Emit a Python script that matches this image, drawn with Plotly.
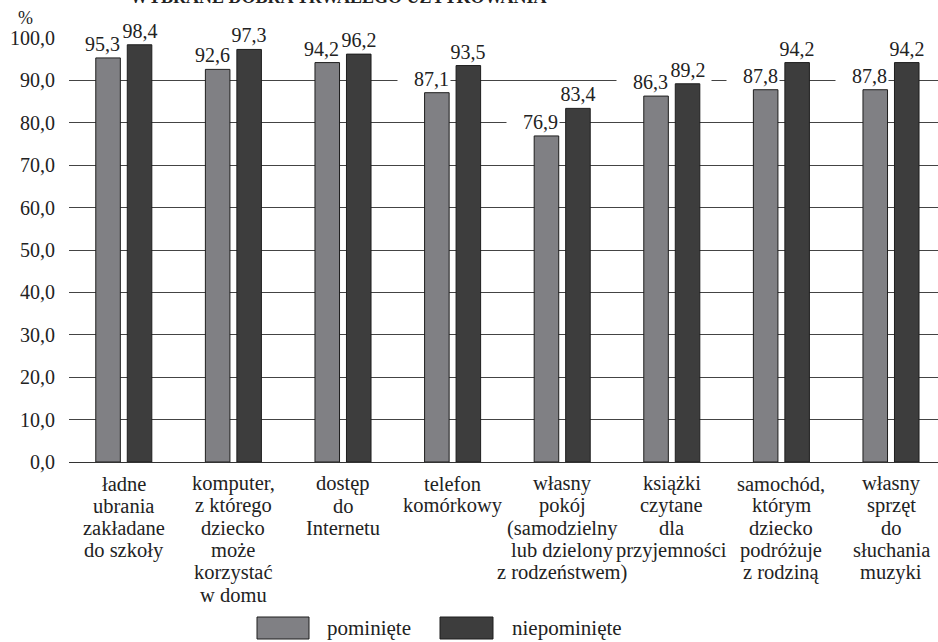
import plotly.graph_objects as go

# ---- data ----
categories = [
    ["ładne", "ubrania", "zakładane", "do szkoły"],
    ["komputer,", "z którego", "dziecko", "może", "korzystać", "w domu"],
    ["dostęp", "do", "Internetu"],
    ["telefon", "komórkowy"],
    ["własny", "pokój", "(samodzielny", "lub dzielony", "z rodzeństwem)"],
    ["książki", "czytane", "dla", "przyjemności"],
    ["samochód,", "którym", "dziecko", "podróżuje", "z rodziną"],
    ["własny", "sprzęt", "do", "słuchania", "muzyki"],
]
pominiete = [95.3, 92.6, 94.2, 87.1, 76.9, 86.3, 87.8, 87.8]
niepominiete = [98.4, 97.3, 96.2, 93.5, 83.4, 89.2, 94.2, 94.2]
series_names = ["pominięte", "niepominięte"]
tick_vals = [0, 10, 20, 30, 40, 50, 60, 70, 80, 90, 100]
tick_text = ["0,0", "10,0", "20,0", "30,0", "40,0", "50,0", "60,0", "70,0", "80,0", "90,0", "100,0"]
title_text = "WYBRANE DOBRA TRWAŁEGO UŻYTKOWANIA"

# ---- styling ----
W, H = 938, 642
PL, PT, PB = 69, 38, 180
PW = W - PL
PH = H - PT - PB
UNIT = 109.6
FONT = "Liberation Serif, Times New Roman, DejaVu Serif, serif"
GRAY = "#808084"
DARK = "#3d3d3d"
EDGE = "#1e1e1e"
BW = 0.224
OFF = 0.1437

x_idx = list(range(len(categories)))

def px2paper_x(px):
    return (px - PL) / PW

def px2paper_y(py):
    return (H - PB - py) / PH

fig = go.Figure()
fig.add_trace(go.Bar(
    x=x_idx, y=pominiete, name=series_names[0], width=BW, offset=-OFF - BW / 2,
    marker=dict(color=GRAY, line=dict(color=EDGE, width=1)), showlegend=False,
))
fig.add_trace(go.Bar(
    x=x_idx, y=niepominiete, name=series_names[1], width=BW, offset=OFF - BW / 2,
    marker=dict(color=DARK, line=dict(color=EDGE, width=1)), showlegend=False,
))

annotations = []
# dark value labels first
for i, v in enumerate(niepominiete):
    annotations.append(dict(
        x=i + OFF, y=v, xref="x", yref="y", text=f"{v:.1f}".replace(".", ","),
        showarrow=False, xanchor="center", yanchor="bottom", yshift=1,
        width=44, align="center", bgcolor="white", borderpad=1,
        font=dict(family=FONT, size=20, color="#222"),
    ))
# gray value labels (right aligned, box extending to the left)
for i, v in enumerate(pominiete):
    annotations.append(dict(
        x=i - OFF, y=v, xref="x", yref="y", text=f"{v:.1f}".replace(".", ","),
        showarrow=False, xanchor="right", xshift=14, yanchor="bottom", yshift=1,
        width=50, align="right", bgcolor="white", borderpad=1,
        font=dict(family=FONT, size=20, color="#222"),
    ))
# category labels, one line each
for i, lines in enumerate(categories):
    for k, line in enumerate(lines):
        annotations.append(dict(
            x=i, y=0, xref="x", yref="paper", text=line, showarrow=False,
            xanchor="center", yanchor="middle", yshift=-21.5 - 22.3 * k,
            font=dict(family=FONT, size=20.5, color="#222"),
        ))
# percent sign
annotations.append(dict(
    x=px2paper_x(25), y=px2paper_y(18), xref="paper", yref="paper", text="%",
    showarrow=False, xanchor="center", yanchor="middle",
    font=dict(family=FONT, size=18, color="#222"),
))
# title (cut off at top)
annotations.append(dict(
    x=px2paper_x(128), y=px2paper_y(9), xref="paper", yref="paper",
    text=f"<b>{title_text}</b>", showarrow=False, xanchor="left", yanchor="bottom",
    font=dict(family=FONT, size=18, color="#222"),
))

# manual legend
shapes = []
legend_items = [(257, 309, 325, GRAY, series_names[0]), (440, 493, 510, DARK, series_names[1])]
for x0, x1, tx, col, name in legend_items:
    shapes.append(dict(
        type="rect", xref="paper", yref="paper",
        x0=px2paper_x(x0), x1=px2paper_x(x1), y0=px2paper_y(617), y1=px2paper_y(639),
        fillcolor=col, line=dict(color=EDGE, width=1),
    ))
    annotations.append(dict(
        x=px2paper_x(tx), y=px2paper_y(628), xref="paper", yref="paper", text=name,
        showarrow=False, xanchor="left", yanchor="middle",
        font=dict(family=FONT, size=21, color="#222"),
    ))

fig.update_layout(
    width=W, height=H,
    margin=dict(l=PL, r=0, t=PT, b=PB, pad=0),
    paper_bgcolor="white", plot_bgcolor="white",
    font=dict(family=FONT, size=20, color="#222"),
    showlegend=False,
    annotations=annotations, shapes=shapes,
    xaxis=dict(
        range=[-0.5, -0.5 + PW / UNIT], showticklabels=False, showgrid=False,
        zeroline=False, showline=True, linecolor="#333", linewidth=1, ticks="",
        fixedrange=True,
    ),
    yaxis=dict(
        range=[0, 100], tickvals=tick_vals, ticktext=tick_text,
        showgrid=True, gridcolor="#444", gridwidth=1, zeroline=False,
        showline=False, ticks="", ticklabelstandoff=13,
        tickfont=dict(family=FONT, size=20, color="#222"),
    ),
)

fig.write_html(
    "out.html",
    config={"displayModeBar": False},
    post_script="document.body.style.margin='0';document.body.style.padding='0';",
)
